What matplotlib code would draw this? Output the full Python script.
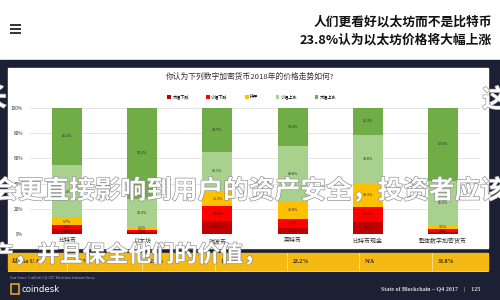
import matplotlib.pyplot as plt
import matplotlib.patheffects as pe
from matplotlib.patches import Rectangle
import numpy as np

plt.rcParams['font.family'] = ['Noto Sans CJK SC', 'DejaVu Sans']
plt.rcParams['axes.unicode_minus'] = False

# 数据
categories = ['比特币', '以太坊', '瑞波币', '莱特币', '比特币现金', '整体数字加密货币']
series_names = ['大幅下跌', '小幅下跌', '持平', '小幅上涨', '大幅上涨']
big_down = [3.6, 1.5, 10.5, 4.5, 9.6, 1.7]
small_down = [3.2, 1.9, 11.4, 7.7, 12.0, 2.0]
flat = [5.7, 2.1, 12.3, 13.8, 18.3, 3.1]
small_up = [42.4, 22.3, 31.1, 43.8, 38.8, 35.6]
big_up = [45.1, 72.2, 34.7, 30.2, 21.3, 57.6]
series_colors = ['#c00000', '#ff0000', '#ffc000', '#a9d18e', '#70ad47']

y_ticks = [0, 20, 40, 60, 80, 100]
y_tick_labels = ['0%', '20%', '40%', '60%', '80%', '100%']

row_label = '以*Go U Ale'
row_values = ['45.1%', '42.3%', '14.6%', '23.2%', 'N/A', '33.8%']

title_lines = ['人们更看好以太坊而不是比特币', '23.8%认为以太坊价格将大幅上涨']
chart_title = '你认为下列数字加密货币2018年的价格走势如何?'
overlay_line2 = '会更直接影响到用户的资产安全，投资者应该'
overlay_line3 = '产，并且保全他们的价值，'

NAVY = '#1c2035'
SERIF = ['Liberation Serif', 'Noto Sans CJK SC']


def main():
    fig = plt.figure(figsize=(5, 3), dpi=100)
    fig.patch.set_facecolor('white')

    # 背景层（像素坐标）
    bg = fig.add_axes([0, 0, 1, 1], zorder=0)
    bg.set_xlim(0, 500)
    bg.set_ylim(300, 0)
    bg.axis('off')

    bg.add_patch(Rectangle((0, 60), 500, 240, color=NAVY))
    bg.add_patch(Rectangle((8, 68), 480, 180, color='white'))
    bg.add_patch(Rectangle((8, 253), 480, 17, color='#f5b914'))
    bg.plot([8, 488], [270.5, 270.5], color='#e8e8e8', lw=0.6)

    # 汉堡菜单
    for yy in (24.5, 28.5, 32.5):
        bg.plot([10, 21], [yy, yy], color='#222222', lw=1.3, solid_capstyle='butt')

    bg.text(492, 22, title_lines[0], ha='right', va='center', fontsize=9.2,
            fontweight='bold', color='#111111')
    bg.text(492, 40, title_lines[1], ha='right', va='center', fontsize=9.2,
            fontweight='bold', color='#111111')

    bg.text(250, 77, chart_title, ha='center', va='center', fontsize=5.6, color='#333333')

    # 表格行
    dividers = [67, 142, 215, 287, 359, 432]
    for xd in dividers:
        bg.plot([xd, xd], [253, 270], color='white', lw=0.5, alpha=0.7)
    bg.text(12, 261.5, row_label, ha='left', va='center', fontsize=4.2,
            fontweight='bold', family=SERIF, color='#222222')
    for xd, val in zip(dividers, row_values):
        bg.text(xd + 6, 261.5, val, ha='left', va='center', fontsize=4.2,
                fontweight='bold', family=SERIF, color='#222222')

    # 页脚
    bg.text(10, 278, "Data Source: CoinDesk's Q4 2017 Blockchain Sentiment Survey",
            ha='left', va='center', fontsize=2.3, color='#b0b0b8', family=SERIF)
    bg.add_patch(Rectangle((10.5, 283.5), 8, 10, fill=False, ec='#e0a420', lw=1.2))
    bg.text(21, 289, 'coindesk', ha='left', va='center', fontsize=6.2,
            color='white', family='DejaVu Sans')
    bg.text(480, 290, 'State of Blockchain – Q4 2017    |    125', ha='right', va='center',
            fontsize=4.3, color='#d8d8dc', family=SERIF, fontweight='bold')

    # 图表
    ax = fig.add_axes([30 / 500, (300 - 234) / 300, 450 / 500, 126 / 300], zorder=2)
    ax.set_facecolor('none')
    x = np.arange(len(categories))
    width = 0.40
    bottom = np.zeros(len(categories))
    handles = []
    for name, vals, col in zip(series_names, [big_down, small_down, flat, small_up, big_up],
                               series_colors):
        vals = np.array(vals)
        h = ax.bar(x, vals, width, bottom=bottom, color=col, label=name, zorder=2)
        handles.append(h)
        for xi, b, v in zip(x, bottom, vals):
            ax.text(xi, b + v / 2, f'{v:.1f}%', ha='center', va='center',
                    fontsize=2.6, color='#222222', zorder=3)
        bottom += vals

    ax.set_xlim(-0.492, 5.492)
    ax.set_ylim(0, 100)
    ax.set_yticks(y_ticks)
    ax.set_yticklabels(y_tick_labels, fontsize=3.4, color='#333333')
    ax.set_xticks(x)
    ax.set_xticklabels(categories, fontsize=4.3, color='#333333')
    ax.tick_params(length=0, pad=3)
    ax.tick_params(axis='y', pad=5)
    ax.grid(axis='y', color='#d9d9d9', lw=0.5, zorder=0)
    ax.set_axisbelow(True)
    for s in ax.spines.values():
        s.set_visible(False)

    ax.legend(handles=handles, loc='center', bbox_to_anchor=(252 / 500, 1 - 97 / 300),
              bbox_transform=fig.transFigure, ncol=5, fontsize=3, frameon=False,
              handlelength=0.8, handleheight=0.8, columnspacing=4.2, handletextpad=0.4)

    # 叠加的白色大字
    ov = fig.add_axes([0, 0, 1, 1], zorder=5)
    ov.set_xlim(0, 500)
    ov.set_ylim(300, 0)
    ov.axis('off')
    stroke = [pe.withStroke(linewidth=0.9, foreground='#8a8a8a')]
    ov.text(-8, 191, overlay_line2, ha='left', va='center', fontsize=18.5,
            fontweight='bold', color='white', path_effects=stroke)
    ov.text(-9, 255, overlay_line3, ha='left', va='center', fontsize=16.5,
            fontweight='bold', color='white', path_effects=stroke)
    ov.text(495, 100, '这', ha='center', va='center', fontsize=18.5,
            fontweight='bold', color='white', path_effects=stroke)
    ov.text(-6, 99, '长', ha='center', va='center', fontsize=18.5,
            fontweight='bold', color='white', path_effects=stroke)

    fig.savefig('out.png', dpi=100)
    plt.close(fig)


if __name__ == '__main__':
    main()
